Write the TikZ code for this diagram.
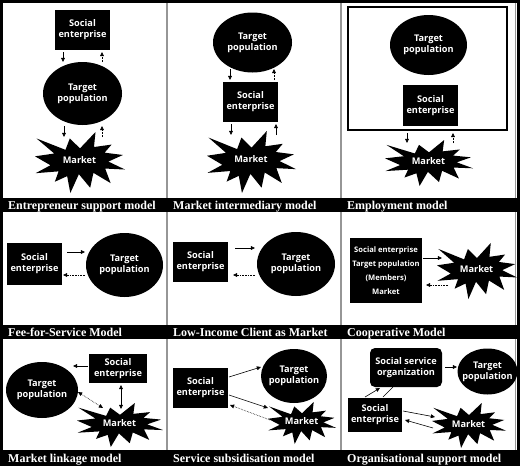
\documentclass[tikz,border=0pt]{standalone}
\usepackage{fontspec}
\setmainfont{Liberation Serif}
\newfontfamily\nodefamily{Open Sans}
\usetikzlibrary{shapes.geometric,arrows.meta}
\definecolor{sepgray}{RGB}{150,150,150}
\tikzset{
 lbl/.style={text=white, font=\nodefamily\bfseries\fontsize{9.2}{11}\selectfont, align=center},
 sebox/.style={lbl, rectangle, fill=black, inner sep=0pt},
 tpell/.style={lbl, ellipse, fill=black, inner sep=-8pt},
 mk/.style={lbl, inner sep=0pt},
 captxt/.style={anchor=base west, text=white, font=\bfseries\fontsize{12}{14}\selectfont, inner sep=0pt},
 arr/.style={line width=0.6pt, -{Triangle[length=4.2pt,width=3.8pt]}},
 darr/.style={arr, densely dotted},
 dbl/.style={line width=0.6pt, {Triangle[length=4.2pt,width=3.8pt]}-{Triangle[length=4.2pt,width=3.8pt]}},
 sepline/.style={draw=sepgray, line width=1.5pt},
}
\newcommand\boom[5]{%
  \fill[black, shift={(#2,#3)}, xscale=#4/100, yscale=#5/100]
   (50,26.85) -- (67.23,0) -- (65.53,24.65) -- (85.09,20.63) -- (77.32,33.87) --
   (97.67,37.67) -- (81.51,48.50) -- (100,61.53) -- (77.95,59.92) -- (84.00,83.77) --
   (64.91,66.93) -- (61.33,91.38) -- (48.76,69.14) -- (39.28,100) -- (35.72,72.35) --
   (22.05,81.56) -- (26.24,64.52) -- (0.63,67.53) -- (17.23,54.51) -- (0,39.88) --
   (21.42,35.26) -- (1.71,10.63) -- (33.85,29.26) -- (38.67,10.63) -- cycle;
  \node[mk] (#1) at ({#2+0.494*#4},{#3+0.46*#5}) {Market};
}
\begin{document}
\begin{tikzpicture}[x=1pt,y=-1pt]
\useasboundingbox (0,0) rectangle (520,466);
\fill[white] (0,0) rectangle (520,466);
% separators
\draw[sepline] (167,0) -- (167,466);
\draw[sepline] (341,0) -- (341,466);
\draw[draw=sepgray, line width=1pt] (515.5,0) -- (515.5,466);
% caption bars
\fill[black] (0,197.5) rectangle (520,211.5);
\fill[black] (0,325) rectangle (520,339);
\fill[black] (0,450) rectangle (520,466);
% outer frame
\fill[black] (0,0) rectangle (520,3);
\fill[black] (0,0) rectangle (3,466);
\fill[black] (517,0) rectangle (520,466);
% captions
\node[captxt] (c1) at (8,209) {Entrepreneur support model};
\node[captxt] (c2) at (173,209) {Market intermediary model};
\node[captxt] (c3) at (347,209) {Employment model};
\node[captxt] (c4) at (8,336) {Fee-for-Service Model};
\node[captxt] (c5) at (173,336) {Low-Income Client as Market};
\node[captxt] (c6) at (347,336) {Cooperative Model};
\node[captxt] (c7) at (8,462) {Market linkage model};
\node[captxt] (c8) at (173,462) {Service subsidisation model};
\node[captxt] (c9) at (347,462) {Organisational support model};

% ---------- Panel 1: Entrepreneur support
\node[sebox, minimum width=55pt, minimum height=40pt] (se1) at (82.5,30) {Social\\enterprise};
\node[tpell, minimum width=79pt, minimum height=63pt] (tp1) at (82.5,93.5) {Target\\population};
\boom{m1}{35}{132}{90}{61}
\coordinate (p1a) at (63,52);  \coordinate (p1b) at (63,62);
\coordinate (p1c) at (102,62); \coordinate (p1d) at (102,52);
\coordinate (p1e) at (64,126); \coordinate (p1f) at (64,137);
\coordinate (p1g) at (102,137); \coordinate (p1h) at (102,126);
\draw[arr] (p1a) -- (p1b);
\draw[darr] (p1c) -- (p1d);
\draw[arr] (p1e) -- (p1f);
\draw[darr] (p1g) -- (p1h);

% ---------- Panel 2: Market intermediary
\node[tpell, minimum width=79pt, minimum height=60pt] (tp2) at (252.5,42.5) {Target\\population};
\node[sebox, minimum width=55pt, minimum height=40pt] (se2) at (250.5,102) {Social\\enterprise};
\boom{m2}{207}{131}{89}{62}
\coordinate (p2a) at (230,69);  \coordinate (p2b) at (230,80);
\coordinate (p2c) at (274,80);  \coordinate (p2d) at (274,69);
\coordinate (p2e) at (231,124); \coordinate (p2f) at (231,135);
\coordinate (p2g) at (276,135); \coordinate (p2h) at (276,124);
\draw[arr] (p2a) -- (p2b);
\draw[darr] (p2c) -- (p2d);
\draw[arr] (p2e) -- (p2f);
\draw[arr] (p2g) -- (p2h);

% ---------- Panel 3: Employment
\draw[black, line width=1.2pt] (348,7) rectangle (507,130);
\node[tpell, minimum width=77pt, minimum height=60pt] (tp3) at (428.5,45) {Target\\population};
\node[sebox, minimum width=55pt, minimum height=41pt] (se3) at (430.5,105.5) {Social\\enterprise};
\boom{m3}{385}{140}{88}{46}
\coordinate (p3a) at (407,133); \coordinate (p3b) at (407,143);
\coordinate (p3c) at (453,143); \coordinate (p3d) at (453,133);
\draw[arr] (p3a) -- (p3b);
\draw[darr] (p3c) -- (p3d);

% ---------- Panel 4: Fee-for-Service
\node[sebox, minimum width=55pt, minimum height=42pt] (se4) at (34.5,264) {Social\\enterprise};
\node[tpell, minimum width=77pt, minimum height=64pt] (tp4) at (124.5,265) {Target\\population};
\coordinate (p4a) at (67,252); \coordinate (p4b) at (85,252);
\coordinate (p4c) at (85,275); \coordinate (p4d) at (63,275);
\draw[arr] (p4a) -- (p4b);
\draw[darr] (p4c) -- (p4d);

% ---------- Panel 5: Low-Income Client as Market
\node[sebox, minimum width=55pt, minimum height=40pt] (se5) at (200.5,262) {Social\\enterprise};
\node[tpell, minimum width=78pt, minimum height=64pt] (tp5) at (296,264) {Target\\population};
\coordinate (p5a) at (235,248); \coordinate (p5b) at (255,248);
\coordinate (p5c) at (255,275); \coordinate (p5d) at (233,275);
\draw[arr] (p5a) -- (p5b);
\draw[darr] (p5c) -- (p5d);

% ---------- Panel 6: Cooperative
\node[sebox, font=\nodefamily\bfseries\fontsize{7.6}{14}\selectfont, minimum width=72pt, minimum height=65pt] (co6) at (386,270.5) {Social enterprise\\Target population\\(Members)\\Market};
\boom{m6}{437}{243}{80}{56}
\coordinate (p6a) at (423,258); \coordinate (p6b) at (442,258);
\coordinate (p6c) at (448,285); \coordinate (p6d) at (426,285);
\draw[arr] (p6a) -- (p6b);
\draw[darr] (p6c) -- (p6d);

% ---------- Panel 7: Market linkage
\node[tpell, minimum width=72pt, minimum height=56pt] (tp7) at (42,390) {Target\\population};
\node[sebox, minimum width=58pt, minimum height=29pt] (se7) at (118,368.5) {Social\\enterprise};
\boom{m7}{77}{403}{86}{44}
\coordinate (p7a) at (88,366);  \coordinate (p7b) at (73,366);
\coordinate (p7c) at (121,385); \coordinate (p7d) at (121,409);
\coordinate (p7e) at (78,392);  \coordinate (p7f) at (103,408);
\draw[arr] (p7a) -- (p7b);
\draw[dbl] (p7c) -- (p7d);
\draw[dbl, densely dotted] (p7e) -- (p7f);

% ---------- Panel 8: Service subsidisation
\node[sebox, minimum width=55pt, minimum height=40pt] (se8) at (200.5,388) {Social\\enterprise};
\node[tpell, minimum width=66pt, minimum height=54pt] (tp8) at (294,376) {Target\\population};
\boom{m8}{268}{402}{68}{42}
\coordinate (p8a) at (229,377); \coordinate (p8b) at (261,367);
\coordinate (p8c) at (229,395); \coordinate (p8d) at (268,408);
\coordinate (p8e) at (270,420); \coordinate (p8f) at (230,405);
\draw[arr] (p8a) -- (p8b);
\draw[arr] (p8c) -- (p8d);
\draw[darr] (p8e) -- (p8f);

% ---------- Panel 9: Organisational support
\node[sebox, rounded corners=5pt, minimum width=72pt, minimum height=39pt] (so9) at (406,367.5) {Social service\\organization};
\node[tpell, minimum width=60pt, minimum height=46pt] (tp9) at (487.5,371.5) {Target\\population};
\node[sebox, minimum width=54pt, minimum height=34pt] (se9) at (375,415) {Social\\enterprise};
\boom{m9}{432}{403}{74}{45}
\coordinate (p9a) at (445,367); \coordinate (p9b) at (457,367);
\coordinate (p9c) at (365,397); \coordinate (p9d) at (380,388);
\coordinate (p9e) at (383,397); \coordinate (p9f) at (393,387);
\coordinate (p9g) at (403,411); \coordinate (p9h) at (435,417);
\coordinate (p9i) at (433,428); \coordinate (p9j) at (405,420);
\draw[arr] (p9a) -- (p9b);
\draw[arr] (p9c) -- (p9d);
\draw[line width=0.6pt] (p9e) -- (p9f);
\draw[arr] (p9g) -- (p9h);
\draw[arr] (p9i) -- (p9j);
\end{tikzpicture}
\end{document}
